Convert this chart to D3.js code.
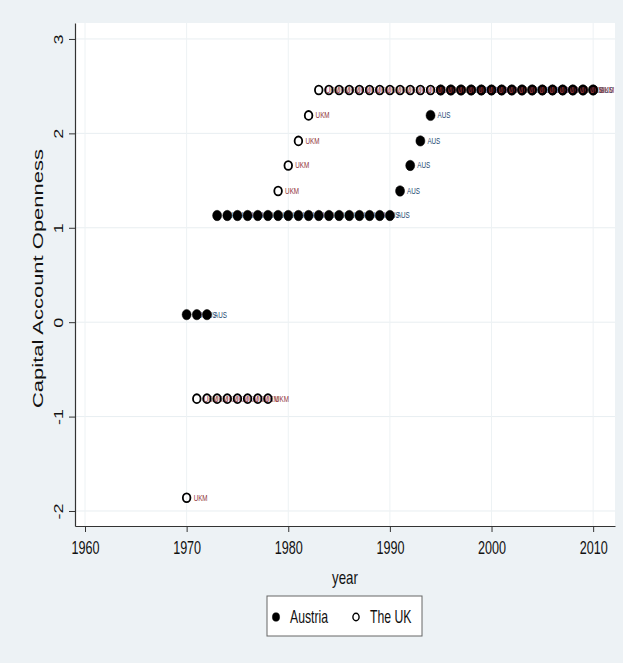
<!DOCTYPE html>
<html><head><meta charset="utf-8">
<script src="https://cdn.jsdelivr.net/npm/d3@7"></script>
<style>html,body{margin:0;padding:0;background:#edf2f5;}svg{display:block;}</style>
</head><body>
<svg id="chart" width="623" height="663"></svg>
<script>
// ---- data ----
const years = [1970,1971,1972,1973,1974,1975,1976,1977,1978,1979,1980,1981,1982,1983,1984,1985,1986,1987,1988,1989,1990,
  1991,1992,1993,1994,1995,1996,1997,1998,1999,2000,2001,2002,2003,2004,2005,2006,2007,2008,2009,2010];
const austriaOpen = [0.08,0.08,0.08,1.13,1.13,1.13,1.13,1.13,1.13,1.13,1.13,1.13,1.13,1.13,1.13,1.13,1.13,1.13,1.13,1.13,1.13,
  1.39,1.66,1.92,2.19,2.46,2.46,2.46,2.46,2.46,2.46,2.46,2.46,2.46,2.46,2.46,2.46,2.46,2.46,2.46,2.46];
const ukOpen = [-1.86,-0.81,-0.81,-0.81,-0.81,-0.81,-0.81,-0.81,-0.81,1.39,1.66,1.92,2.19,2.46,2.46,2.46,2.46,2.46,2.46,2.46,2.46,
  2.46,2.46,2.46,2.46,2.46,2.46,2.46,2.46,2.46,2.46,2.46,2.46,2.46,2.46,2.46,2.46,2.46,2.46,2.46,2.46];
const seriesNames = ["Austria","The UK"];
const seriesCodes = ["AUS","UKM"];
const xTicks = [1960,1970,1980,1990,2000,2010];
const yTicks = [-2,-1,0,1,2,3];
const yTickLabels = ["-2","-1","0","1","2","3"];
const xTitle = "year";
const yTitle = "Capital Account Openness";

// ---- layout ----
const FONT = "'Liberation Sans', Arial, Helvetica, sans-serif";
const SQ = 0.7; // horizontal squeeze of text
const plot = {left:75, right:615, top:23, bottom:526};
const svg = d3.select("#chart");
svg.append("rect").attr("width",623).attr("height",663).attr("fill","#edf2f5");

const x = d3.scaleLinear().domain([1959.016, 2012.15]).range([plot.left, plot.right]);
const y = d3.scaleLinear().domain([-2.159, 3.169]).range([plot.bottom, plot.top]);

svg.append("rect").attr("x",plot.left).attr("y",plot.top)
  .attr("width",plot.right-plot.left).attr("height",plot.bottom-plot.top).attr("fill","#ffffff");

// gridlines
const grid = svg.append("g");
grid.selectAll("line.h").data(yTicks).join("line")
  .attr("x1",plot.left).attr("x2",plot.right).attr("y1",d=>y(d)).attr("y2",d=>y(d))
  .attr("stroke","#e8eef1").attr("stroke-width",1);
grid.selectAll("line.v").data(xTicks).join("line")
  .attr("y1",plot.top).attr("y2",plot.bottom).attr("x1",d=>x(d)).attr("x2",d=>x(d))
  .attr("stroke","#edf2f4").attr("stroke-width",1);

// axes
const xAxis = svg.append("g").attr("transform",`translate(0,${plot.bottom})`)
  .call(d3.axisBottom(x).tickValues(xTicks).tickFormat(d3.format("d")).tickSize(6).tickSizeOuter(0));
xAxis.select(".domain").attr("stroke","#333").attr("stroke-width",1.2);
xAxis.selectAll(".tick line").attr("stroke","#333");
xAxis.selectAll(".tick text").attr("y",0).attr("dy",null)
  .attr("transform",`translate(0,28) scale(${SQ},1)`)
  .attr("font-family",FONT).attr("font-size",18).attr("fill","#111");

const yAxis = svg.append("g").attr("transform",`translate(${plot.left},0)`)
  .call(d3.axisLeft(y).tickValues(yTicks).tickFormat((d,i)=>yTickLabels[i]).tickSize(6).tickSizeOuter(0));
yAxis.select(".domain").attr("stroke","#333").attr("stroke-width",1.2);
yAxis.selectAll(".tick line").attr("stroke","#333");
yAxis.selectAll(".tick text").attr("x",0).attr("y",0).attr("dy",null)
  .attr("text-anchor","middle")
  .attr("transform",`translate(-12,0) scale(${SQ},1) rotate(-90)`)
  .attr("font-family",FONT).attr("font-size",18).attr("fill","#111");

// titles
svg.append("text").attr("transform",`translate(${(plot.left+plot.right)/2},584) scale(${SQ},1)`)
  .attr("text-anchor","middle").attr("font-family",FONT).attr("font-size",19).attr("fill","#111").text(xTitle);
svg.append("text").attr("transform",`translate(43,${(plot.top+plot.bottom)/2+4}) scale(${SQ},1) rotate(-90)`)
  .attr("text-anchor","middle").attr("font-family",FONT).attr("font-size",22).attr("fill","#111").text(yTitle);

// series
const series = [
  {name:seriesNames[0], code:seriesCodes[0], vals:austriaOpen, filled:true, labelColor:"#1a476f"},
  {name:seriesNames[1], code:seriesCodes[1], vals:ukOpen, filled:false, labelColor:"#90353b"}
];
series.forEach(s=>{
  const pts = years.map((yr,i)=>({yr, v:s.vals[i]}));
  const g = svg.append("g");
  pts.forEach(p=>{
    g.append("ellipse").attr("cx",x(p.yr)).attr("cy",y(p.v))
      .attr("rx", s.filled?4.5:3.8).attr("ry", s.filled?5.2:4.4)
      .attr("fill", s.filled?"#000":"none").attr("stroke","#000").attr("stroke-width", s.filled?0.5:1.8);
    g.append("text").attr("transform",`translate(${x(p.yr)+7},${y(p.v)+3}) scale(${SQ},1)`)
      .attr("font-family",FONT).attr("font-size",9).attr("fill",s.labelColor).text(s.code);
  });
});

// legend
const lg = svg.append("g");
lg.append("rect").attr("x",267).attr("y",596).attr("width",155).attr("height",40)
  .attr("fill","#fff").attr("stroke","#666").attr("stroke-width",1);
const lItems = [{x:276, filled:true, name:seriesNames[0]},{x:356, filled:false, name:seriesNames[1]}];
lItems.forEach(it=>{
  lg.append("ellipse").attr("cx",it.x).attr("cy",617).attr("rx",it.filled?3.6:3.1).attr("ry",it.filled?4.3:3.7)
    .attr("fill",it.filled?"#000":"none").attr("stroke","#000").attr("stroke-width",it.filled?0.5:1.4);
  lg.append("text").attr("transform",`translate(${it.x+14},623) scale(${SQ},1)`)
    .attr("font-family",FONT).attr("font-size",17.5).attr("fill","#111").text(it.name);
});
</script>
</body></html>
